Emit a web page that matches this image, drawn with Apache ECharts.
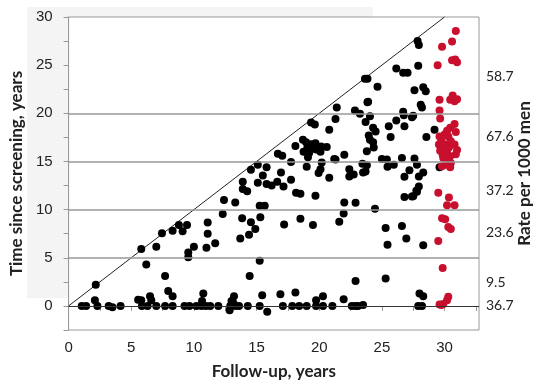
<!DOCTYPE html>
<html>
<head>
<meta charset="utf-8">
<script src="https://cdn.jsdelivr.net/npm/echarts@6/dist/echarts.min.js"></script>
<style>html,body{margin:0;padding:0;background:#fff;}#c{width:550px;height:386px;}</style>
</head>
<body>
<div id="c"></div>
<script>
// ---- data ----
const blackPoints = [
 [1.05,0],[1.4,0],[2.1,0.6],[2.3,0],[2.17,2.2],[3.2,0],[3.5,-0.15],[4.15,0],
 [5.55,0.65],[5.8,0.6],[5.85,0],[6.3,0],[6.5,1.0],[6.6,0.6],[7.0,0],
 [7.7,0],[7.95,1.55],[8.3,1.0],[8.3,0],
 [9.25,0],[9.65,0],[10.2,0],[10.6,0],[10.65,0.5],[10.75,1.3],[10.95,0],[11.3,0],[11.95,0],
 [12.9,0],[12.85,-0.45],[13.0,0.5],[13.15,0.3],[13.2,1.0],[13.3,0],[13.6,0],[14.3,0],
 [15.25,0],[15.45,1.1],[15.85,-0.6],
 [16.9,1.2],[17.1,0],[17.85,0],[18.1,1.4],[18.4,0],[19.0,0],[19.75,0.6],[19.75,0],[20.3,1.0],[20.3,0],[21.05,0],[21.95,0.7],
 [22.6,0],[22.9,0],[23.1,0],[23.5,0.1],[22.9,2.6],[25.3,2.85],[27.9,0],[28.2,0],[28.0,1.3],[28.3,1.0],
 [5.8,5.9],[6.2,4.3],[7.0,6.15],[7.45,7.55],[7.7,3.1],[8.3,7.8],[8.8,8.4],[9.1,7.75],[9.45,8.4],[9.55,5.55],[9.55,5.05],[10.0,6.15],
 [11.1,8.65],[11.1,7.5],[11.0,6.05],[11.7,6.5],[12.3,9.55],[12.4,11.0],[13.3,10.75],[13.85,9.1],[13.7,7.0],
 [14.45,3.1],[14.4,7.4],[14.55,8.7],[14.9,8.0],[15.25,4.7],[15.25,10.4],[15.65,10.4],[15.3,9.2],
 [17.2,8.45],[18.5,9.05],[19.5,8.4],[21.6,8.75],[21.95,9.6],[22.0,10.75],[22.9,10.7],[24.45,10.1],[25.3,8.1],[25.45,6.35],
 [26.6,8.3],[26.95,7.0],[28.3,6.3],[26.8,11.3],[27.4,11.35],[27.8,11.85],[27.95,12.4],
 [18.15,11.75],[18.5,11.65],[19.7,11.45],
 [13.9,12.9],[13.9,12.15],[14.25,11.9],
 [15.1,14.65],[14.55,14.15],[15.8,14.4],[15.5,13.55],[15.1,12.8],[15.8,12.65],[16.2,12.5],[16.65,12.9],[16.95,13.85],[17.15,12.4],[17.75,13.1],[17.75,14.95],
 [16.7,15.8],[17.05,15.6],
 [18.1,16.6],[18.75,16.0],[19.2,15.9],[19.1,15.45],[19.0,14.45],[20.2,14.9],[21.2,15.25],[20.1,14.2],[19.95,13.8],[20.8,13.3],
 [19.35,19.05],[19.65,18.85],[20.8,18.3],[18.7,17.25],[18.95,17.0],[19.35,16.8],[19.7,16.9],[20.15,16.55],[20.6,16.5],[19.45,16.5],[19.75,16.25],[20.1,16.0],[19.05,16.4],
 [21.3,19.4],[21.4,20.6],[22.85,20.3],[23.25,19.95],[24.05,19.7],[23.7,19.1],[23.85,21.15],[24.3,18.5],[24.5,18.1],[23.95,17.7],[24.05,17.25],[24.3,17.0],[24.35,16.45],[23.8,16.05],
 [25.55,18.65],[25.7,17.55],[26.15,19.25],[26.8,18.65],[26.75,19.8],[27.4,19.6],[28.55,17.55],[29.2,18.3],
 [22.0,15.7],[21.3,15.2],[22.4,14.2],[22.4,13.45],[22.75,13.65],[23.45,14.75],[23.8,14.6],[23.5,13.85],[23.7,13.95],
 [25.0,15.25],[25.4,15.2],[25.45,14.45],[25.95,14.65],[26.6,15.35],[27.6,15.3],[27.8,14.65],[27.2,14.1],[26.8,13.4],[27.95,13.45],[28.3,13.85],[27.75,11.95],[27.5,11.4],
 [29.6,14.4],
 [26.15,24.65],[26.7,24.2],[27.05,24.2],[27.9,24.95],[23.65,23.6],[23.85,23.6],[24.65,22.75],[27.6,22.4],[28.3,22.7],[28.5,22.3],[23.9,21.2],
 [28.1,20.9],[28.2,20.6],[26.7,20.15],[27.5,19.75],[27.85,27.5],[27.95,27.1]
];
const redPoints = [
 [30.9,28.55],[30.6,27.45],[29.8,26.9],[30.6,25.5],[30.85,25.6],[31.0,25.3],[29.45,25.0],
 [30.65,21.85],[30.45,21.4],[30.8,21.25],[31.0,21.45],[29.6,21.4],[29.6,20.3],[29.65,19.45],
 [30.45,18.5],[30.8,18.9],[30.9,18.05],[30.2,18.2],[30.0,17.8],[29.6,17.6],[29.75,17.15],[29.55,16.75],[30.3,17.6],[30.5,17.1],
 [30.05,16.75],[30.35,16.45],[30.8,16.75],[31.0,16.2],[30.9,15.75],[30.0,16.4],[29.65,16.1],[29.85,15.7],[30.2,15.9],[30.45,15.55],
 [30.35,15.2],[29.9,15.35],[29.8,14.5],[30.2,14.65],[30.5,14.85],[30.45,14.4],
 [29.5,11.75],[30.35,11.25],[30.2,10.45],[30.8,10.45],[29.8,9.1],[30.05,9.0],[30.3,8.2],[30.5,8.0],[29.5,6.75],[29.85,3.95],
 [30.3,0.95],[30.2,0.6],[29.6,0.15],[29.9,0.2],[29.75,0.1]
];
const diagonalEnds = [0, 30];
const bandLines = [0, 5, 10, 15, 20];
const rateLevels = [23.8, 17.6, 12.0, 7.6, 2.4, 0];
const rateLabels = ['58.7', '67.6', '37.2', '23.6', '9.5', '36.7'];
const xTitle = 'Follow-up, years';
const yTitle = 'Time since screening, years';
const rightTitle = 'Rate per 1000 men';

// ---- chart ----
const chart = echarts.init(document.getElementById('c'), null, {renderer: 'canvas'});
const tickFmt = v => (Math.abs(v % 5) < 1e-9 ? String(v) : '');
const markData = bandLines.map(v => ({
  yAxis: v,
  lineStyle: {color: v === 0 ? '#333' : '#999', width: v === 0 ? 1 : 1.5, type: 'solid'},
  label: {show: false}
})).concat(rateLevels.map((v, i) => ({
  yAxis: v,
  lineStyle: {color: 'rgba(0,0,0,0)', width: 1},
  label: {show: true, position: 'end', formatter: rateLabels[i], distance: 7,
          fontFamily: 'Lato', fontSize: 14, color: '#222'}
})));

chart.setOption({
  animation: false,
  backgroundColor: '#fff',
  graphic: [{type: 'rect', z: -10, shape: {x: 27, y: 7, width: 346, height: 291}, style: {fill: '#f4f4f4'}}],
  grid: {left: 66, right: 71, top: 17, bottom: 56, show: true, backgroundColor: '#fff', borderColor: '#999', borderWidth: 1},
  xAxis: {
    type: 'value', min: 0, max: 32.75, interval: 2.5,
    axisLine: {lineStyle: {color: '#999', width: 1}},
    axisTick: {show: true, length: 5, lineStyle: {color: '#999'}},
    splitLine: {show: false},
    axisLabel: {formatter: tickFmt, fontFamily: 'Liberation Sans', fontSize: 15, color: '#222', margin: 10, showMaxLabel: false},
    name: xTitle, nameLocation: 'middle', nameGap: 33,
    nameTextStyle: {fontFamily: 'Lato', fontWeight: 'bold', fontSize: 17, color: '#222'}
  },
  yAxis: [{
    type: 'value', min: -2.5, max: 30, interval: 2.5,
    axisLine: {lineStyle: {color: '#999', width: 1}},
    axisTick: {show: true, length: 5, lineStyle: {color: '#999'}},
    splitLine: {show: false},
    axisLabel: {formatter: tickFmt, fontFamily: 'Liberation Sans', fontSize: 15, color: '#222', margin: 16},
    name: yTitle, nameLocation: 'middle', nameGap: 42, nameRotate: 90,
    nameTextStyle: {fontFamily: 'Lato', fontWeight: 'bold', fontSize: 17, color: '#222'}
  }, {
    type: 'value', min: -2.5, max: 30, position: 'right',
    axisLine: {show: false}, axisTick: {show: false}, axisLabel: {show: false}, splitLine: {show: false},
    name: rightTitle, nameLocation: 'middle', nameGap: 37, nameRotate: 90,
    nameTextStyle: {fontFamily: 'Lato', fontWeight: 'bold', fontSize: 17, color: '#222'}
  }],
  series: [{
    type: 'line', data: diagonalEnds.map(v => [v, v]), symbol: 'none', clip: false,
    lineStyle: {color: '#222', width: 1}, z: 1, silent: true,
    markLine: {symbol: 'none', silent: true, animation: false, data: markData}
  }, {
    type: 'scatter', data: blackPoints, symbolSize: 8, itemStyle: {color: '#000', opacity: 1}, z: 3
  }, {
    type: 'scatter', data: redPoints, symbolSize: 8, itemStyle: {color: '#c8102e', opacity: 1}, z: 3
  }]
});
</script>
</body>
</html>
